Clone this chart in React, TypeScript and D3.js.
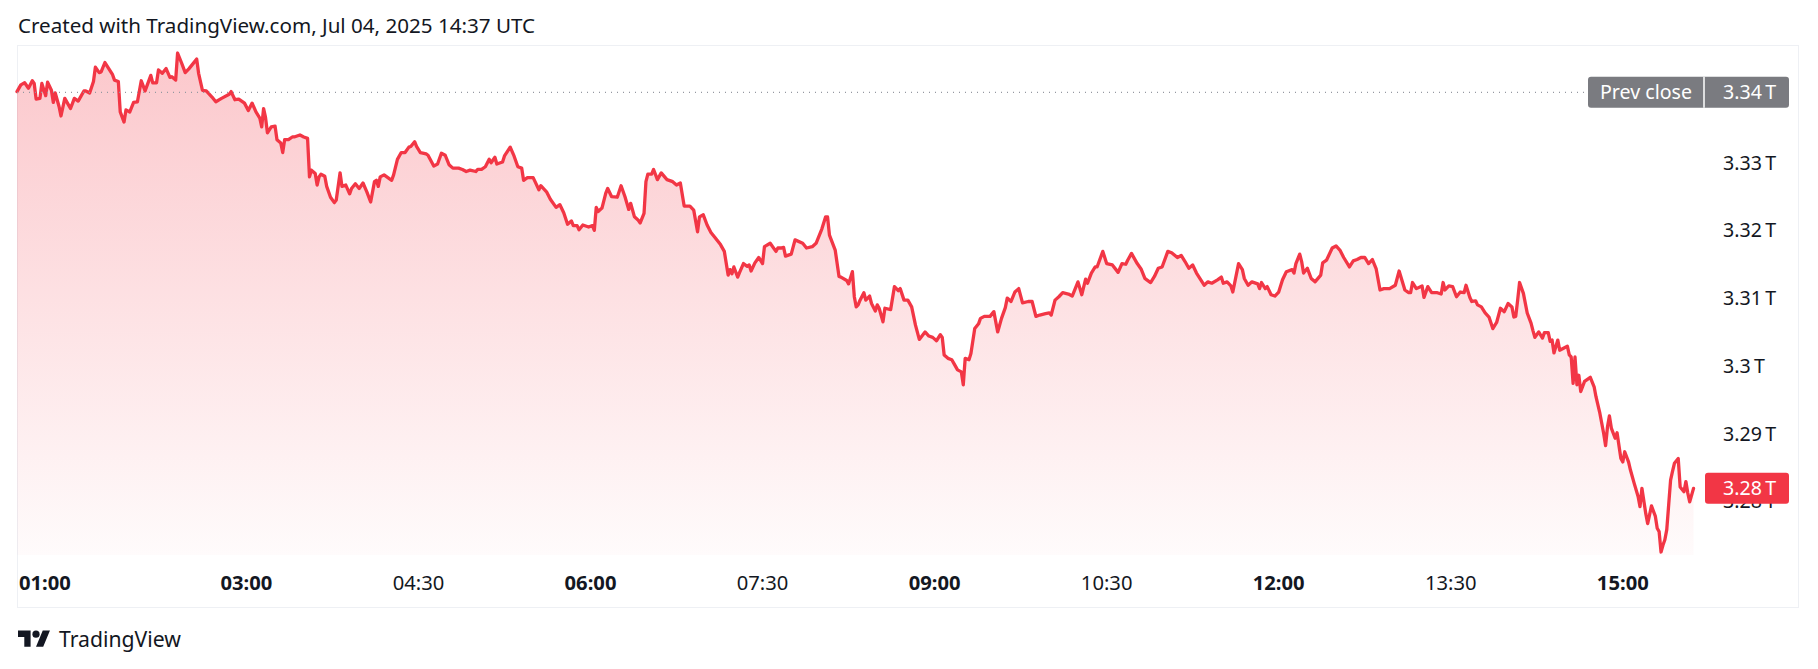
import React from "react";
import * as d3 from "d3";

// minutes after midnight (axis time)
const MINUTES = [
  60, 62, 64, 66, 68, 69, 70, 72, 73, 75, 76, 78, 79, 80, 82, 83, 85, 87, 88, 90, 92, 95, 96, 98, 100, 101, 103, 104, 106, 108, 110, 111, 113, 114, 116, 117, 119, 121, 123, 125, 127, 130, 131, 133, 134, 136, 138, 140, 141, 143, 144, 146, 148, 150, 154, 155, 157, 159, 162, 164, 167, 171, 172, 174, 176, 179, 181, 183, 185, 187, 188, 189, 190, 191, 193, 195, 196, 198, 199, 200, 202, 204, 205, 208, 210,
  212, 213, 214, 216, 217, 218, 219, 221, 222, 224, 226, 227, 229, 230, 232, 234, 235, 237, 239, 241, 243, 245, 247, 248, 249, 250, 252, 256, 257, 259, 261, 263, 265, 266, 268, 269, 271, 274, 275, 278, 280, 282, 284, 286, 288, 291, 293, 295, 297, 300, 301, 303, 305, 307, 308, 310, 311, 314, 315, 318, 320, 322, 324, 325, 327, 330, 331, 333, 334, 337, 339, 342, 344, 346, 348, 350, 351, 353, 354, 356,
  359, 361, 362, 363, 364, 366, 368, 369, 371, 374, 376, 378, 380, 381, 383, 385, 386, 388, 389, 390, 392, 393, 395, 397, 400, 403, 405, 407, 409, 412, 414, 416, 417, 419, 421, 423, 425, 428, 430, 432, 433, 434, 435, 437, 438, 440, 442, 443, 444, 446, 448, 450, 451, 454, 457, 458, 460, 461, 462, 465, 467, 471, 473, 476, 478, 481, 483, 484, 485, 488, 490, 491, 494, 495, 497, 498, 499, 500, 501, 503,
  504, 506, 507, 509, 510, 511, 513, 514, 517, 519, 521, 522, 524, 526, 528, 530, 532, 535, 537, 539, 541, 543, 544, 545, 547, 549, 550, 552, 554, 555, 556, 558, 559, 561, 563, 564, 566, 569, 571, 573, 575, 577, 578, 580, 582, 584, 586, 589, 591, 593, 595, 598, 600, 601, 603, 605, 607, 610, 612, 615, 617, 619, 620, 622, 624, 625, 628, 630, 633, 636, 638, 640, 641, 643, 646, 648, 650,
  651, 653, 655, 657, 659, 662, 664, 667, 669, 671, 673, 675, 677, 679, 681, 683, 685, 688, 690, 691, 693, 695, 696, 699, 701, 702, 704, 706, 709, 710, 711, 713, 714, 716, 718, 720, 722, 724, 727, 728, 729, 731, 732, 733, 735, 737, 739, 742, 743, 745, 748, 750, 752, 754, 757, 759, 761, 763, 765, 767, 769, 771, 773, 775, 778, 781, 783, 786, 788, 789, 790, 792, 795, 796,
  798, 800, 803, 805, 806, 807, 809, 811, 813, 815, 817, 818, 820, 821, 823, 824, 826, 828, 830, 832, 834, 836, 838, 840, 842, 843, 844, 845, 846, 848, 850, 852, 853, 854, 856, 858, 859, 861, 862, 863, 864, 866, 867, 869, 871, 872, 873, 874, 875, 876, 877, 878, 880, 883, 885, 886, 888, 890, 891, 892, 893, 894, 896, 897, 899, 900, 901, 903, 904, 906, 908, 909, 910, 912, 913, 915, 917, 918, 919, 920, 921, 922, 923, 925, 926, 927, 929, 930, 932, 933, 934, 935, 937,
];

// market value, trillions
const VALUES = [
  3.3405, 3.3415, 3.3418, 3.341, 3.3421, 3.3417, 3.3394, 3.3395, 3.3417, 3.3399, 3.3419, 3.3407, 3.3389, 3.3403, 3.3383, 3.3369, 3.3395, 3.3385, 3.338, 3.3395, 3.3391, 3.3406, 3.3406, 3.3403, 3.342, 3.3441, 3.3433, 3.3434, 3.3448, 3.3439, 3.343, 3.3422, 3.342, 3.3375, 3.336, 3.3378, 3.3375, 3.3389, 3.339, 3.3421, 3.3406, 3.3429, 3.3418, 3.3418, 3.3437, 3.3432, 3.3439, 3.3426, 3.3427, 3.3422, 3.3462, 3.3448, 3.3433, 3.3439, 3.3453, 3.3432, 3.3407, 3.3406, 3.3397, 3.339, 3.3395, 3.3401, 3.3405, 3.3393, 3.3394, 3.3388, 3.3377, 3.3388, 3.3375, 3.3366, 3.3353, 3.338, 3.3367, 3.3344, 3.3353, 3.3354, 3.3334, 3.3329, 3.3315, 3.3334, 3.3334, 3.3338, 3.3338, 3.3341, 3.3338,
  3.3336, 3.3279, 3.3289, 3.3284, 3.3267, 3.3279, 3.3283, 3.328, 3.3265, 3.3249, 3.3241, 3.3245, 3.3285, 3.3265, 3.3267, 3.3254, 3.3262, 3.3269, 3.3262, 3.327, 3.3257, 3.3242, 3.3272, 3.3274, 3.3265, 3.3279, 3.3282, 3.3274, 3.3282, 3.3305, 3.3315, 3.3315, 3.3323, 3.3324, 3.3331, 3.3324, 3.3315, 3.3313, 3.3311, 3.3295, 3.3298, 3.3314, 3.3311, 3.3297, 3.3292, 3.3292, 3.329, 3.3287, 3.3289, 3.3287, 3.329, 3.329, 3.3294, 3.3305, 3.33, 3.3308, 3.3298, 3.3301, 3.331, 3.3323, 3.331, 3.3294, 3.3292, 3.3274, 3.3278, 3.3278, 3.3272, 3.326, 3.3266, 3.3257, 3.3246, 3.3234, 3.3238, 3.3226, 3.3209, 3.3214, 3.3207, 3.3207, 3.3201, 3.3208,
  3.3205, 3.3207, 3.32, 3.3234, 3.3228, 3.3233, 3.3255, 3.3262, 3.325, 3.3249, 3.3266, 3.325, 3.3231, 3.324, 3.322, 3.3215, 3.3211, 3.3225, 3.3272, 3.3283, 3.3283, 3.329, 3.3275, 3.3285, 3.3275, 3.3272, 3.3267, 3.327, 3.3236, 3.3236, 3.323, 3.3198, 3.322, 3.3223, 3.3208, 3.3197, 3.319, 3.3179, 3.3169, 3.3134, 3.3142, 3.3136, 3.3146, 3.3131, 3.3138, 3.3151, 3.3147, 3.3149, 3.314, 3.3152, 3.316, 3.3151, 3.3176, 3.3181, 3.3169, 3.3174, 3.3174, 3.3175, 3.3162, 3.3165, 3.3186, 3.3181, 3.3174, 3.3176, 3.3181, 3.3202, 3.322, 3.322, 3.3193, 3.3171, 3.3132, 3.3131, 3.3126, 3.3121, 3.3139, 3.3102, 3.3087, 3.309, 3.3097, 3.3108,
  3.3097, 3.3103, 3.3092, 3.3081, 3.309, 3.3085, 3.3065, 3.3085, 3.3083, 3.3117, 3.3111, 3.3114, 3.3097, 3.3097, 3.3087, 3.306, 3.3039, 3.305, 3.3044, 3.3042, 3.3037, 3.3046, 3.3042, 3.3016, 3.3011, 3.3009, 3.3004, 3.2994, 3.2991, 3.2972, 3.3011, 3.3009, 3.3018, 3.3055, 3.3062, 3.307, 3.3073, 3.3073, 3.308, 3.305, 3.307, 3.3086, 3.31, 3.3095, 3.3109, 3.3114, 3.3093, 3.3095, 3.3095, 3.3073, 3.3075, 3.3077, 3.3078, 3.3075, 3.3097, 3.3102, 3.3108, 3.3106, 3.3103, 3.3124, 3.3105, 3.3128, 3.3122, 3.3137, 3.3146, 3.3146, 3.3169, 3.3151, 3.3149, 3.3138, 3.3151, 3.315, 3.3156, 3.3166, 3.3151, 3.3143, 3.3129,
  3.3127, 3.3123, 3.3132, 3.3144, 3.3146, 3.3169, 3.3167, 3.316, 3.3163, 3.3154, 3.3144, 3.3149, 3.3137, 3.3128, 3.3119, 3.3124, 3.3122, 3.3127, 3.3131, 3.3122, 3.3124, 3.3118, 3.3109, 3.3151, 3.3142, 3.3129, 3.3119, 3.3124, 3.3121, 3.3114, 3.3123, 3.3114, 3.3117, 3.3105, 3.3103, 3.3109, 3.3127, 3.3139, 3.3142, 3.3137, 3.3151, 3.3165, 3.3154, 3.3137, 3.3144, 3.3129, 3.3124, 3.3134, 3.3152, 3.3156, 3.3174, 3.3177, 3.3171, 3.316, 3.3146, 3.3155, 3.3157, 3.316, 3.316, 3.3151, 3.3157, 3.3143, 3.3112, 3.3114, 3.3114, 3.3119, 3.314, 3.3112, 3.3108, 3.3108, 3.3123, 3.3114, 3.3118, 3.3101,
  3.3117, 3.3108, 3.3108, 3.3106, 3.3123, 3.3112, 3.3118, 3.3117, 3.3102, 3.3109, 3.3108, 3.3119, 3.3101, 3.3095, 3.3096, 3.309, 3.3087, 3.3078, 3.3072, 3.3055, 3.3064, 3.3085, 3.308, 3.3092, 3.3087, 3.3072, 3.3073, 3.3097, 3.3123, 3.3107, 3.3078, 3.3063, 3.3052, 3.3042, 3.305, 3.3041, 3.3049, 3.3049, 3.3036, 3.3038, 3.3019, 3.3038, 3.3023, 3.3026, 3.3029, 3.3016, 3.3013, 3.2974, 3.3013, 3.2972, 3.2986, 3.2962, 3.2977, 3.2983, 3.2969, 3.2954, 3.293, 3.29, 3.2882, 3.291, 3.2926, 3.2908, 3.2893, 3.2901, 3.2863, 3.2858, 3.2873, 3.2858, 3.2846, 3.2826, 3.2807, 3.2792, 3.2819, 3.2782, 3.2767, 3.2793, 3.2778, 3.276, 3.2755, 3.2725, 3.2735, 3.2743, 3.2758, 3.2831, 3.2844, 3.2856, 3.2863, 3.2821, 3.2814, 3.2829, 3.2812, 3.2799, 3.2819,
];

const X_TICKS = ["01:00", "03:00", "04:30", "06:00", "07:30", "09:00", "10:30", "12:00", "13:30", "15:00"];
const Y_TICKS = [3.28, 3.29, 3.3, 3.31, 3.32, 3.33];
const PREV_CLOSE = 3.3404;
const TITLE = "Created with TradingView.com, Jul 04, 2025 14:37 UTC";
const BRAND = "TradingView";

const W = 1818;
const H = 669;
const FONT = "'Noto Sans', sans-serif";
const RED = "#F23645";
const INK = "#131722";

const toMin = (s: string) => {
  const [h, m] = s.split(":").map(Number);
  return h * 60 + m;
};
const fmtVal = (v: number) => `${d3.format(".2~f")(v)}\u202FT`;

export default function App() {
  const paneLeft = 17;
  const paneTop = 45;
  const paneBottom = 555;
  const frameRight = 1798;
  const frameBottom = 607;

  const x = d3.scaleLinear().domain([60, 900]).range([17, 1622.8]);
  const y = d3.scaleLinear().domain([3.28, 3.34]).range([501.2, 95]);

  const data = MINUTES.map((m, i) => ({ m, v: VALUES[i] }));
  const line = d3
    .line<{ m: number; v: number }>()
    .x((d) => x(d.m))
    .y((d) => y(d.v));
  const area = d3
    .area<{ m: number; v: number }>()
    .x((d) => x(d.m))
    .y0(paneBottom)
    .y1((d) => y(d.v));

  const last = VALUES[VALUES.length - 1];
  const axisX = 1723;
  const yPrev = y(PREV_CLOSE);
  const yLast = y(last);

  return (
    <svg
      width={W}
      height={H}
      viewBox={`0 0 ${W} ${H}`}
      style={{ position: "absolute", left: 0, top: 0, display: "block", background: "#fff" }}
      fontFamily={FONT}
    >
      <defs>
        <linearGradient id="fillGrad" gradientUnits="userSpaceOnUse" x1="0" y1={paneTop} x2="0" y2={paneBottom}>
          <stop offset="0" stopColor={RED} stopOpacity={0.28} />
          <stop offset="1" stopColor={RED} stopOpacity={0.02} />
        </linearGradient>
      </defs>
      <rect x={0} y={0} width={W} height={H} fill="#fff" />

      {/* title */}
      <text x={18} y={33} fontSize={20.6} fill={INK}>
        {TITLE}
      </text>

      {/* frame */}
      <rect
        x={paneLeft + 0.5}
        y={paneTop + 0.5}
        width={frameRight - paneLeft}
        height={frameBottom - paneTop}
        fill="none"
        stroke="#eef0f4"
        strokeWidth={1}
      />

      {/* area + line */}
      <path d={area(data) || ""} fill="url(#fillGrad)" />
      <path d={line(data) || ""} fill="none" stroke={RED} strokeWidth={3.3} strokeLinejoin="round" strokeLinecap="round" />

      {/* prev close dotted line */}
      <line x1={paneLeft} x2={1588} y1={yPrev} y2={yPrev} stroke="#9598a1" strokeWidth={1.2} strokeDasharray="1 5" />

      {/* right axis labels */}
      {Y_TICKS.map((t) => (
        <text key={t} x={axisX} y={y(t)} dy="0.36em" fontSize={19.6} fill={INK}>
          {fmtVal(t)}
        </text>
      ))}

      {/* prev close label */}
      <rect x={1588} y={yPrev - 15.5} width={201} height={31} rx={3} fill="#7a7b80" />
      <line x1={1704} x2={1704} y1={yPrev - 15.5} y2={yPrev + 15.5} stroke="#fff" strokeWidth={1.5} />
      <text x={1646} y={yPrev} dy="0.36em" textAnchor="middle" fontSize={19.6} fill="#fff">
        Prev close
      </text>
      <text x={axisX} y={yPrev} dy="0.36em" fontSize={19.6} fill="#fff">
        {fmtVal(+PREV_CLOSE.toFixed(2))}
      </text>

      {/* last price label */}
      <rect x={1705} y={yLast - 15.5} width={84} height={31} rx={3} fill={RED} />
      <text x={axisX} y={yLast} dy="0.36em" fontSize={19.6} fill="#fff">
        {fmtVal(+last.toFixed(2))}
      </text>

      {/* time axis */}
      {X_TICKS.map((t, i) => {
        const m = toMin(t);
        const major = m % 60 === 0;
        const first = i === 0;
        return (
          <text
            key={t}
            x={first ? 19 : x(m)}
            y={583}
            dy="0.36em"
            textAnchor={first ? "start" : "middle"}
            fontSize={20.2}
            fontWeight={major ? 700 : 400}
            fill={INK}
          >
            {t}
          </text>
        );
      })}

      {/* brand */}
      <g transform="translate(18,627) scale(0.9)" fill={INK}>
        <path d="M14 22H7V11H0V4h14v18zM28 22h-8l7.5-18h8L28 22z" />
        <circle cx={20} cy={8} r={4} />
      </g>
      <text x={59} y={647} fontSize={21.2} fill={INK}>
        {BRAND}
      </text>
    </svg>
  );
}
